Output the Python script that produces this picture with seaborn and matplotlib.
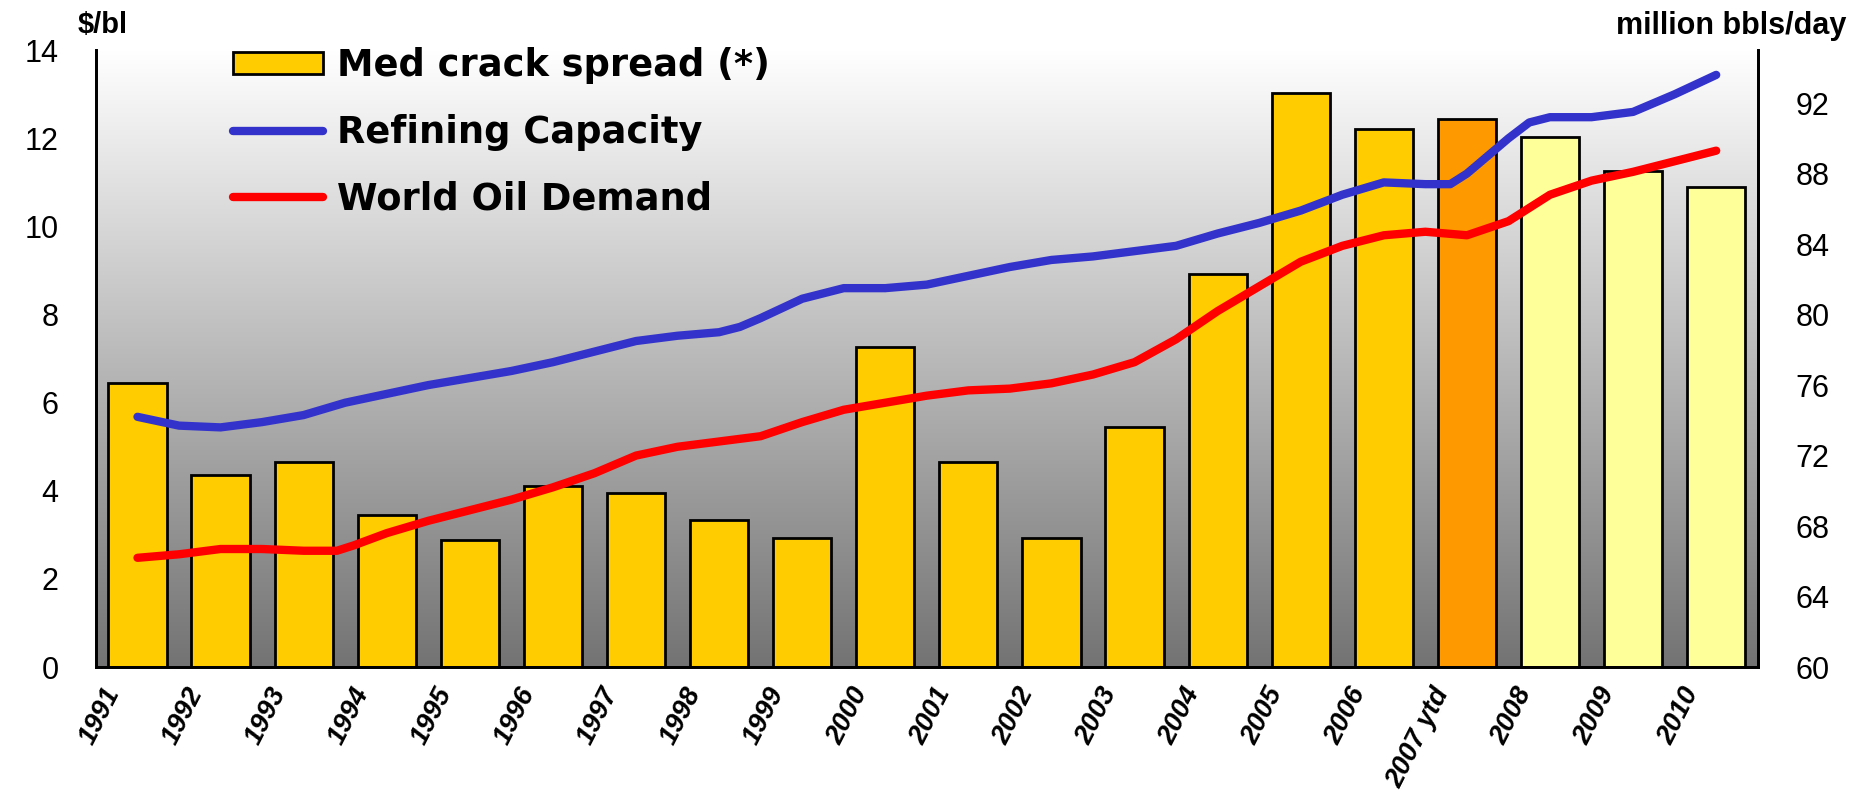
import numpy as np
import pandas as pd
import matplotlib
matplotlib.use("Agg")
import matplotlib.pyplot as plt
import matplotlib.transforms as mtransforms
import seaborn as sns
from matplotlib.patches import Patch
from matplotlib.lines import Line2D

# bar data ($/bl)
years = ["1991", "1992", "1993", "1994", "1995", "1996", "1997", "1998", "1999", "2000",
         "2001", "2002", "2003", "2004", "2005", "2006", "2007 ytd", "2008", "2009", "2010"]
crack_spread = [6.45, 4.36, 4.66, 3.45, 2.88, 4.12, 3.96, 3.34, 2.93, 7.27,
                4.66, 2.93, 5.44, 8.91, 13.03, 12.22, 12.44, 12.04, 11.25, 10.9]
bar_colors = ["#FFCC00"] * 16 + ["#FF9900"] + ["#FFFF99"] * 3

# line data (million bbls/day), sampled by year
capacity_t = [1991.0, 1991.5, 1992.0, 1992.5, 1993.0, 1993.5, 1994.0, 1994.5, 1995.0, 1995.5,
              1996.0, 1996.5, 1997.0, 1997.5, 1998.0, 1998.25, 1998.5, 1999.0, 1999.5, 2000.0,
              2000.5, 2001.0, 2001.5, 2002.0, 2002.5, 2003.0, 2003.5, 2004.0, 2004.5, 2005.0,
              2005.5, 2006.0, 2006.5, 2006.8, 2007.0, 2007.5, 2007.75, 2008.0, 2008.5, 2009.0,
              2009.5, 2010.0]
capacity = [74.2, 73.7, 73.6, 73.9, 74.3, 75.0, 75.5, 76.0, 76.4, 76.8,
            77.3, 77.9, 78.5, 78.8, 79.0, 79.3, 79.8, 80.9, 81.5, 81.5,
            81.7, 82.2, 82.7, 83.1, 83.3, 83.6, 83.9, 84.6, 85.2, 85.9,
            86.8, 87.5, 87.4, 87.4, 88.0, 90.0, 90.9, 91.2, 91.2, 91.5,
            92.5, 93.6]

demand_t = [1991.0, 1991.5, 1992.0, 1992.5, 1993.0, 1993.4, 1993.6, 1994.0, 1994.5, 1995.0,
            1995.5, 1996.0, 1996.5, 1997.0, 1997.5, 1998.0, 1998.5, 1999.0, 1999.5, 2000.0,
            2000.5, 2001.0, 2001.5, 2002.0, 2002.5, 2003.0, 2003.5, 2004.0, 2004.5, 2005.0,
            2005.5, 2006.0, 2006.5, 2007.0, 2007.5, 2008.0, 2008.5, 2009.0, 2009.5, 2010.0]
demand = [66.2, 66.4, 66.7, 66.7, 66.6, 66.6, 66.9, 67.6, 68.3, 68.9,
          69.5, 70.2, 71.0, 72.0, 72.5, 72.8, 73.1, 73.9, 74.6, 75.0,
          75.4, 75.7, 75.8, 76.1, 76.6, 77.3, 78.6, 80.2, 81.6, 83.0,
          83.9, 84.5, 84.7, 84.5, 85.3, 86.8, 87.6, 88.1, 88.7, 89.3]

bars = pd.DataFrame({"year": years, "spread": crack_spread})
cap = pd.DataFrame({"x": np.array(capacity_t) - 1991, "y": capacity})
dem = pd.DataFrame({"x": np.array(demand_t) - 1991, "y": demand})

sns.set_style("white")
plt.rcParams["font.family"] = ["Liberation Sans", "DejaVu Sans"]
plt.rcParams["text.color"] = "black"
plt.rcParams["xtick.color"] = "black"
plt.rcParams["ytick.color"] = "black"

fig = plt.figure(figsize=(18.63, 7.97), dpi=100)
ax = fig.add_axes([0.0515, 0.163, 0.892, 0.774])

# gradient background
grad = np.linspace(0, 1, 256).reshape(-1, 1)
cmap = matplotlib.colors.LinearSegmentedColormap.from_list("bg", ["#FFFFFF", "#737373"])
ax.imshow(grad, aspect="auto", cmap=cmap, extent=[0, 1, 0, 1],
          transform=ax.transAxes, zorder=0)

sns.barplot(data=bars, x="year", y="spread", hue="year", palette=bar_colors,
            legend=False, width=0.7, edgecolor="black", linewidth=2, saturation=1,
            ax=ax, zorder=2)
ax.set_xlim(-0.5, 19.5)
ax.set_ylim(0, 14)
ax.set_yticks(range(0, 15, 2))
ax.set_xlabel("")
ax.set_ylabel("")

ax2 = ax.twinx()
sns.lineplot(data=cap, x="x", y="y", color="#3333CC", linewidth=6, sort=False,
             estimator=None, ax=ax2, solid_capstyle="round", solid_joinstyle="round")
sns.lineplot(data=dem, x="x", y="y", color="#FF0000", linewidth=6, sort=False,
             estimator=None, ax=ax2, solid_capstyle="round", solid_joinstyle="round")
ax2.set_xlim(-0.5, 19.5)
ax2.set_ylim(60, 95)
ax2.set_yticks(range(60, 93, 4))
ax2.set_xlabel("")
ax2.set_ylabel("")

for a in (ax, ax2):
    a.spines["top"].set_visible(False)
    for s in ("left", "right", "bottom"):
        a.spines[s].set_color("black")
        a.spines[s].set_linewidth(2)
    a.tick_params(length=0)

ax.tick_params(axis="y", labelsize=22, pad=27)
ax2.tick_params(axis="y", labelsize=22, pad=27)

ax.set_xticks(range(len(years)))
ax.set_xticklabels(years, rotation=63, ha="right", va="center", rotation_mode="anchor",
                   fontsize=19.5, fontweight="bold", fontstyle="italic")
ax.tick_params(axis="x", pad=12)
shift = mtransforms.ScaledTranslation(-0.24, -0.05, fig.dpi_scale_trans)
for lab in ax.get_xticklabels():
    lab.set_transform(lab.get_transform() + shift)

fig.text(78 / 1863, 0.986, "$/bl", fontsize=21, fontweight="bold", va="top")
fig.text(1846 / 1863, 0.986, "million bbls/day", fontsize=22, fontweight="bold",
         va="top", ha="right")

handles = [Patch(facecolor="#FFCC00", edgecolor="black", linewidth=2),
           Line2D([0], [0], color="#3333CC", lw=6, solid_capstyle="round"),
           Line2D([0], [0], color="#FF0000", lw=6, solid_capstyle="round")]
labels = ["Med crack spread (*)", "Refining Capacity", "World Oil Demand"]
ax2.legend(handles, labels, loc="upper left", bbox_to_anchor=(0.0824, 1.005),
           frameon=False, prop={"size": 26.5, "weight": "bold", "family": "DejaVu Sans"},
           handlelength=2.45, handleheight=0.52, handletextpad=0.38, labelspacing=0.8,
           borderaxespad=0, borderpad=0)

fig.savefig("out.png", dpi=100)
